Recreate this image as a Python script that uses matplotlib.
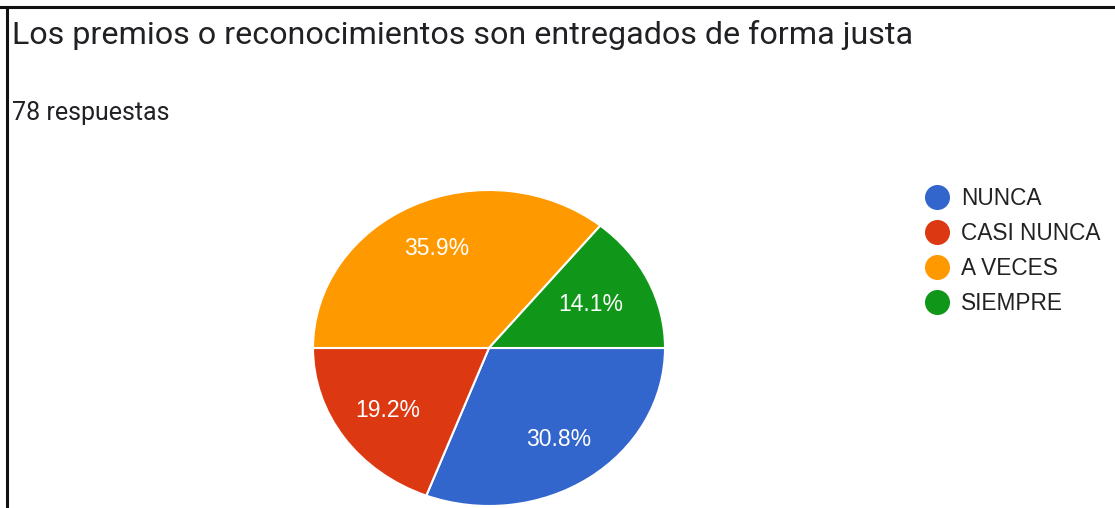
"""
Gráfico circular: premios o reconocimientos entregados de forma justa.
"""

import matplotlib.pyplot as plt
from matplotlib.lines import Line2D

# Datos
categorias = ['NUNCA', 'CASI NUNCA', 'A VECES', 'SIEMPRE']
porcentajes = [30.8, 19.2, 35.9, 14.1]
colores = ['#3366CC', '#DC3912', '#FF9900', '#109618']
titulo = 'Los premios o reconocimientos son entregados de forma justa'
subtitulo = '78 respuestas'

W, H = 1115, 508
fig = plt.figure(figsize=(W / 100, H / 100), dpi=100)
fig.patch.set_facecolor('white')

# Marco negro (arriba e izquierda)
fig.add_artist(Line2D([0, 1], [1 - 7 / H, 1 - 7 / H], color='#111111', linewidth=2.2))
fig.add_artist(Line2D([7 / W, 7 / W], [0, 1 - 7 / H], color='#111111', linewidth=2.2))

# Títulos
fig.text(12 / W, 1 - 44 / H, titulo, fontsize=23.2, color='#202124',
         family='Roboto', ha='left', va='baseline')
fig.text(12 / W, 1 - 120 / H, subtitulo, fontsize=18, color='#202124',
         family='Roboto', ha='left', va='baseline')

# Eje del gráfico circular (ligeramente elíptico, como en la captura)
ax = fig.add_axes([313 / W, 2 / H, 352 / W, 316 / H])
wedges, texts, autotexts = ax.pie(
    porcentajes, colors=colores, startangle=0, counterclock=False,
    autopct='%1.1f%%', pctdistance=0.70,
    wedgeprops=dict(edgecolor='white', linewidth=1.5),
    textprops=dict(color='white', fontsize=16.5, family='Liberation Sans'))
ax.set_aspect('auto')
ax.set_xlim(-1, 1)
ax.set_ylim(-1, 1)

# la etiqueta del sector pequeño queda algo más cerca del centro
x, y = autotexts[3].get_position()
autotexts[3].set_position((x * 0.91, y * 0.91))

# Leyenda
handles = [Line2D([0], [0], marker='o', linestyle='none', markersize=17,
                  markerfacecolor=c, markeredgecolor=c) for c in colores]
fig.legend(handles, categorias, loc='upper left',
           bbox_to_anchor=(912 / W, 1 - 176 / H), frameon=False,
           borderpad=0, handlelength=1.2, handletextpad=0.45,
           labelspacing=0.52,
           prop=dict(family='Liberation Sans', size=16.3), labelcolor='#222222')

plt.savefig('out.png', dpi=100)
plt.close()
